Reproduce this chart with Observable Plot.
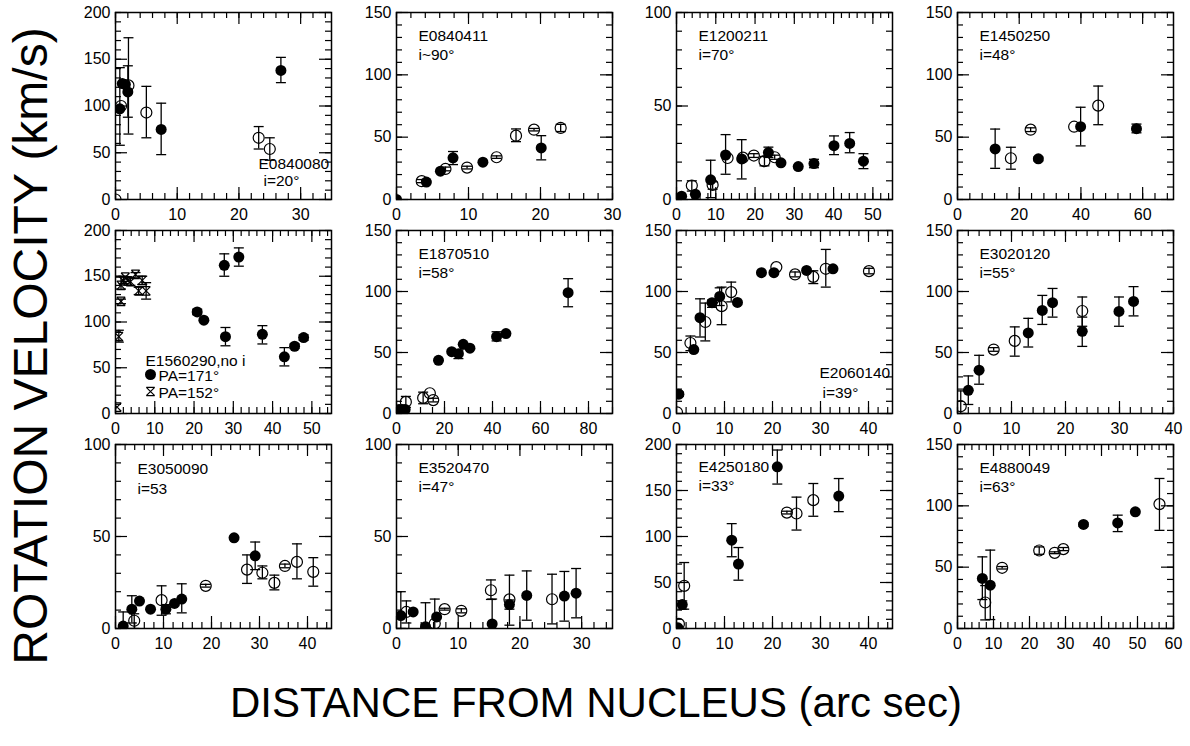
<!DOCTYPE html>
<html><head><meta charset="utf-8">
<script src="https://cdn.jsdelivr.net/npm/d3@7"></script>
<script src="https://cdn.jsdelivr.net/npm/@observablehq/plot@0.6"></script>
<style>
html,body{margin:0;padding:0;background:#fff;}
#wrap{position:relative;width:1190px;height:746px;overflow:hidden;background:#fff;font-family:"Liberation Sans",Arial,sans-serif;}
.panel{position:absolute;}
.title{position:absolute;color:#000;white-space:nowrap;line-height:1;font-family:"Liberation Sans",Arial,sans-serif;}
</style></head><body><div id="wrap"></div>
<script>
// ---------- data ----------
const galaxies = ["E0840080","E0840411","E1200211","E1450250","E1560290,no i","E1870510","E2060140","E3020120","E3050090","E3520470","E4250180","E4880049"];
const inclinations = ["i=20°","i~90°","i=70°","i=48°","","i=58°","i=39°","i=55°","i=53","i=47°","i=33°","i=63°"];
const legendLabels = ["PA=171°","PA=152°"];
const xMax = [35,30,55,70,55,90,45,40,45,35,45,60];
const yMax = [200,150,100,150,200,150,150,150,100,100,200,150];
const xMajorStep = [10,10,10,20,10,20,10,10,10,10,10,10];
const xMinorStep = [2,2,2,4,2,5,2,2,2,2,2,2];
const yMajorStep = 50, yMinorStep = 10;

// rows: [kind, x, y, errLow, errHigh]  kind: f = filled, o = open, x = cross
const E0840080 = [
  ["o",0,0],["f",0.7,97,58,141],["o",0.9,100],["f",1.1,124],["f",1.6,123],
  ["o",2.1,122,70,173],["f",2.0,115,88,143],["o",5.0,93,66,121],["f",7.4,75,48,103],
  ["o",23.2,66,54,78],["o",25.0,54,42,66],["f",26.8,138,125,152]
];
const E0840411 = [
  ["f",0,0],["o",3.5,14.7,13.5,16],["f",4.15,14],["f",6.1,22.7],["o",6.8,24.5,23,26],
  ["f",7.85,33.4,28,38.5],["o",9.8,25.6,24.5,26.7],["f",12.0,29.9],["o",13.9,33.9,33,35],
  ["o",16.6,51.2,46.4,56.6],["o",19.1,56,55,57],["f",20.1,41.4,31.8,51.2],["o",22.8,57.4,54.5,60.3]
];
const E1200211 = [
  ["f",1.3,1.8],["o",3.9,7.5,4.5,10],["f",4.8,2.8],["f",8.7,10.5,1,21],["o",9.2,7.8,5.5,9.5],
  ["f",12.5,23.8,13.5,34.7],["o",13.0,22.2],["f",16.6,21.7,11,32],["o",16.9,22.4],
  ["o",19.7,23.5,22.5,24.5],["o",22.4,20.5,18,23],["f",23.4,25.1,22.5,28],["o",25.0,22.6,21.5,23.7],
  ["f",26.6,19.6],["f",31.0,17.6],["f",35.0,19.2,17,21.5],["f",40.1,28.8,24,34],
  ["f",44.1,30,25,35.8],["f",47.6,20.5,16.5,24.5]
];
const E1450250 = [
  ["f",12.2,40.6,25,56.5],["o",17.3,33.1,24.3,41.9],["o",23.7,56,54.5,57.5],["f",26.2,32.6,31,34],
  ["o",37.8,58.4],["f",39.9,58.4,43,74],["o",45.6,75.3,60,91],["f",58.0,56.8,53.5,60.5]
];
const E1560290 = [
  ["f",20.8,111,108,114],["f",22.5,102],["f",27.7,162,150,174.5],["f",28.0,84,74,94],
  ["f",31.4,171,161,181],["f",37.4,86.5,76,96],["f",43.0,62,52,72],["f",45.6,73.5,71,76],["f",47.9,83,80,86],
  ["x",0.4,7],["x",0.85,84,78,91],["x",1.4,122.5,120,125],["x",1.4,140,136,149],["x",2.0,145,142,150],
  ["x",2.5,149],["x",3.1,145],["x",3.8,144,140,148],["x",5.1,152,149,154],["x",5.9,134,130,138],
  ["x",6.8,145.5,141,150],["x",7.8,134,125,143]
];
const E1870510 = [
  ["f",1.1,3.3],["f",2.4,3.3],["f",3.6,3.3],["o",3.9,9.5,5,14],["o",11.1,12.8,8,17.5],["o",13.9,16.6],
  ["o",15.3,11,9.5,12.5],["f",17.5,43.6],["f",23.0,50.7],["f",25.8,49,45,52],["f",27.8,56.7],
  ["f",30.6,53.5],["f",41.7,63,59.5,67],["f",45.6,65.5],["f",71.5,99,87.5,110.5]
];
const E2060140 = [
  ["f",0.5,15.8,14,17.5],["o",0.1,1],["o",2.9,57.8,51.5,63.5],["f",3.6,52.4],["f",4.9,78.5,62.7,94],
  ["o",6.0,75,59.5,90.5],["f",7.4,90.8,87,93],["f",9.0,96,88.5,103],["o",9.4,88,72.8,103.6],
  ["o",11.4,99.5,91.5,107.7],["f",12.7,91],["f",17.7,115.4],["f",20.3,115.4],["o",20.8,120],
  ["o",24.7,114,112,116],["f",27.1,117.3],["o",28.5,112,106.5,117],["o",31.1,118.6,103.6,134.5],
  ["f",32.6,118.6],["o",40.1,116.7,114.5,119]
];
const E3020120 = [
  ["o",0.6,6,0,18.5],["f",2.0,19,7.4,30.8],["f",4.0,35.5,24,47.7],["o",6.7,52.4,51,54],
  ["o",10.6,59.5,47,71],["f",13.1,66,54.5,78],["f",15.7,84.5,73,96.8],["f",17.6,90.8,79,102.5],
  ["o",23.1,84,71.5,95.5],["f",23.1,67.4,55,79],["f",29.9,83.7,71.5,95.5],["f",32.6,91.9,80,104]
];
const E3050090 = [
  ["f",1.6,1.3,0,9],["f",3.4,10.5,3,17.8],["o",3.9,4.2,0,8],["f",5.0,14.9],["f",7.3,10.5],
  ["o",9.6,15.4,7.2,23.2],["f",10.5,10.5,8,13],["f",12.3,13.6],["f",13.8,16,8.5,24.3],
  ["o",18.8,23.2,22.5,24],["f",24.7,49.3,48.5,50],["o",27.4,32,24.5,40],["f",29.1,39.5,32,47],
  ["o",30.6,30.3,27,34],["o",33.1,24.8,21,29],["o",35.3,34,33,35],["o",37.8,36.2,27,46],["o",41.2,30.8,23,38.5]
];
const E3520470 = [
  ["f",0.7,7,0,20],["o",1.6,9,3,15],["f",2.7,9],["f",4.7,1,0,14],["o",6.2,2.7,0,16],["f",6.5,6.3],
  ["o",7.8,10.5,10,11],["o",10.5,9.6,8.5,10.7],["o",15.3,20.8,15.8,26.4],["f",15.5,2.5,0,16],
  ["o",18.3,15.8,1.8,29],["f",18.3,13,10.5,15.5],["f",21.1,18,4.5,31.3],["o",25.2,15.9,2.5,29.5],
  ["f",27.2,17.6,4,31],["f",29.1,19.2,5.8,32.6]
];
const E4250180 = [
  ["f",0.3,0.7],["o",0.5,5],["f",1.2,26,21,30],["o",1.6,46.4,21,71.7],["f",11.5,96,78,114],
  ["f",12.9,70,52.5,88],["f",21.0,175.7,157,194],["o",23.0,126,124.5,127.5],["o",25.0,125,107,142.8],
  ["o",28.5,139.5,122,157.6],["f",33.8,144,127,163]
];
const E4880049 = [
  ["f",6.9,40.8,23.6,58.4],["o",7.7,21.2,7,35],["f",9.1,35.3,7.3,63.9],["o",12.4,49.5,48.5,50.5],
  ["o",22.7,63.6,60.5,66.5],["o",27.0,61.7,61,62.5],["o",29.4,64.7,63.5,66],["f",35.0,84.8,83.5,86],
  ["f",44.5,86.1,79,92.4],["f",49.4,95.1],["o",56.1,101.4,80,122.3]
];
const panelData = [E0840080,E0840411,E1200211,E1450250,E1560290,E1870510,E2060140,E3020120,E3050090,E3520470,E4250180,E4880049];

// ---------- layout ----------
const colLeft = [115, 396, 676, 957];
const rowTop = [12, 230, 444];
const rowH = [187, 183, 184];
const frameW = 216;
const mL = 48, mR = 10, mT = 10, mB = 30;
// label positions inside frame: [dx1, dy1, dx2, dy2]
const labelPos = [[143,156,148,173],[22,28,22,47],[22,28,22,47],[22,28,22,47],[30,135,0,0],[22,28,22,47],
                  [143,147,146,167],[22,28,22,47],[22,29,22,49],[22,28,22,47],[22,27,22,46],[22,28,22,47]];

const capSym = {draw(c){ c.moveTo(-5,0); c.lineTo(5,0); }};
const crossSym = {draw(c){ const s=4.2; c.moveTo(-s,-s); c.lineTo(s,s); c.moveTo(s,-s); c.lineTo(-s,s);
  c.moveTo(-s,-s); c.lineTo(s,-s); c.moveTo(-s,s); c.lineTo(s,s); }};

const wrap = document.getElementById("wrap");
const font = "'Liberation Sans', Arial, sans-serif";

for (let i = 0; i < 12; i++) {
  const row = Math.floor(i / 4), col = i % 4;
  const W = frameW, H = rowH[row];
  const xs = xMax[i], ys = yMax[i];
  const xMaj = d3.range(0, xs + 1e-6, xMajorStep[i]);
  const xMin = d3.range(0, xs + 1e-6, xMinorStep[i]);
  const yMaj = d3.range(0, ys + 1e-6, yMajorStep);
  const yMin = d3.range(0, ys + 1e-6, yMinorStep);
  const rows = panelData[i].map(([k, x, y, lo, hi]) => ({k, x, y, lo, hi}));
  const errs = rows.filter(d => d.lo != null);
  const tk = {stroke: "black", strokeWidth: 1.2};
  const eb = {stroke: "black", strokeWidth: 1.3, clip: true};
  const lp = labelPos[i];
  const marks = [
    Plot.ruleX(xMin, {...tk, insetTop: H - 6}),
    Plot.ruleX(xMaj, {...tk, insetTop: H - 12}),
    Plot.ruleX(xMin, {...tk, insetBottom: H - 6}),
    Plot.ruleX(xMaj, {...tk, insetBottom: H - 12}),
    Plot.ruleY(yMin, {...tk, insetRight: W - 6}),
    Plot.ruleY(yMaj, {...tk, insetRight: W - 12}),
    Plot.ruleY(yMin, {...tk, insetLeft: W - 6}),
    Plot.ruleY(yMaj, {...tk, insetLeft: W - 12}),
    Plot.axisX({ticks: xMaj, tickSize: 0, tickPadding: 9, label: null, tickFormat: d3.format("d")}),
    Plot.axisY({ticks: yMaj, tickSize: 0, tickPadding: 5, label: null, tickFormat: d3.format("d")}),
    Plot.ruleX(errs, {x: "x", y1: "lo", y2: "hi", ...eb}),
    Plot.dot(errs, {x: "x", y: "lo", symbol: capSym, fill: "none", ...eb}),
    Plot.dot(errs, {x: "x", y: "hi", symbol: capSym, fill: "none", ...eb}),
    Plot.dot(rows.filter(d => d.k === "o"), {x: "x", y: "y", r: 5.5, stroke: "black", fill: "none", strokeWidth: 1.2, clip: true}),
    Plot.dot(rows.filter(d => d.k === "f"), {x: "x", y: "y", r: 5.5, fill: "black", stroke: "none", clip: true}),
    Plot.dot(rows.filter(d => d.k === "x"), {x: "x", y: "y", symbol: crossSym, stroke: "black", fill: "none", strokeWidth: 1.2, clip: true}),
    Plot.frame({stroke: "black", strokeWidth: 1.5}),
    Plot.text([galaxies[i]], {frameAnchor: "top-left", dx: lp[0], dy: lp[1], textAnchor: "start", lineAnchor: "bottom", fontSize: 15.5})
  ];
  if (inclinations[i]) {
    marks.push(Plot.text([inclinations[i]], {frameAnchor: "top-left", dx: lp[2], dy: lp[3], textAnchor: "start", lineAnchor: "bottom", fontSize: 15.5}));
  }
  if (i === 4) {
    marks.push(
      Plot.dot([0], {frameAnchor: "top-left", dx: 35, dy: 144, r: 5.5, fill: "black"}),
      Plot.text([legendLabels[0]], {frameAnchor: "top-left", dx: 43, dy: 150, textAnchor: "start", lineAnchor: "bottom", fontSize: 15.5}),
      Plot.dot([0], {frameAnchor: "top-left", dx: 35, dy: 161, symbol: crossSym, stroke: "black", fill: "none", strokeWidth: 1.2}),
      Plot.text([legendLabels[1]], {frameAnchor: "top-left", dx: 43, dy: 167, textAnchor: "start", lineAnchor: "bottom", fontSize: 15.5})
    );
  }
  const svg = Plot.plot({
    width: W + mL + mR, height: H + mT + mB,
    marginLeft: mL, marginRight: mR, marginTop: mT, marginBottom: mB,
    x: {domain: [0, xs]}, y: {domain: [0, ys]},
    style: {fontFamily: font, fontSize: "16px", color: "black", background: "transparent", overflow: "visible"},
    marks
  });
  const div = document.createElement("div");
  div.className = "panel";
  div.style.left = (colLeft[col] - mL) + "px";
  div.style.top = (rowTop[row] - mT) + "px";
  div.appendChild(svg);
  wrap.appendChild(div);
}

const yt = document.createElement("div");
yt.className = "title";
yt.textContent = "ROTATION VELOCITY (km/s)";
yt.style.fontSize = "48px";
yt.style.left = "31px"; yt.style.top = "346px";
yt.style.transform = "translate(-50%,-50%) rotate(-90deg)";
wrap.appendChild(yt);

const xt = document.createElement("div");
xt.className = "title";
xt.textContent = "DISTANCE FROM NUCLEUS (arc sec)";
xt.style.fontSize = "42px";
xt.style.left = "596px"; xt.style.top = "703px";
xt.style.transform = "translate(-50%,-50%)";
wrap.appendChild(xt);
</script></body></html>
